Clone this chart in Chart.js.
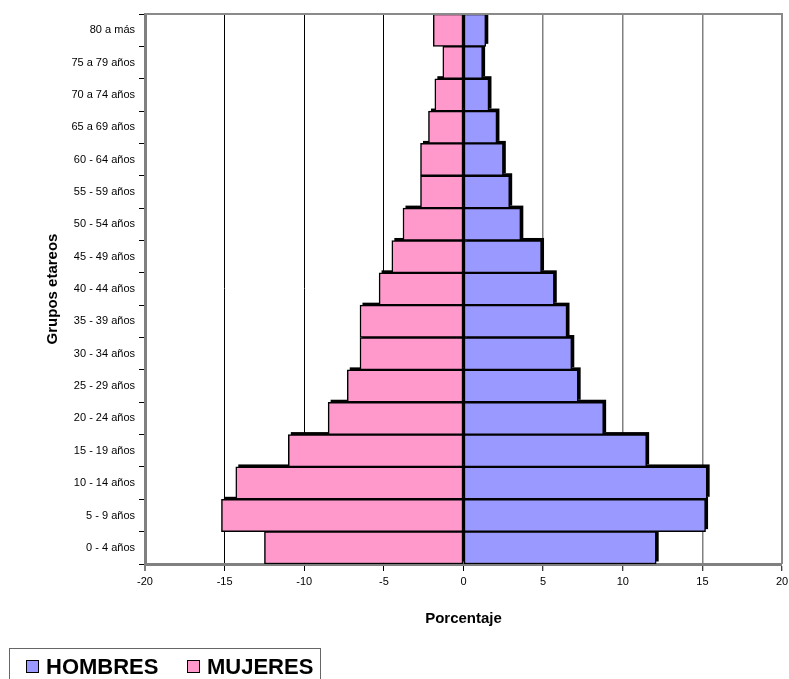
<!DOCTYPE html>
<html>
<head>
<meta charset="utf-8">
<script src="https://cdn.jsdelivr.net/npm/chart.js@4/dist/chart.umd.min.js"></script>
<style>
  html, body { margin: 0; padding: 0; background: #fff; }
  #wrap { position: relative; width: 789px; height: 679px; }
  #legend { position: absolute; left: 9px; top: 648px; width: 312px; height: 40px; border: 1px solid #666; box-sizing: border-box;
            font-family: "Liberation Sans", Arial, sans-serif; font-weight: bold; font-size: 22px; color: #000; }
  .item { position: absolute; top: 5px; line-height: 26px; white-space: nowrap; }
  .sw { display: inline-block; width: 11px; height: 11px; border: 1px solid #000; vertical-align: 1px; margin-right: 7px; }
</style>
</head>
<body>
<div id="wrap">
  <canvas id="c" width="789" height="679"></canvas>
  <div id="legend">
    <span class="item" style="left:16px"><span class="sw" style="background:#9999FF"></span>HOMBRES</span>
    <span class="item" style="left:177px"><span class="sw" style="background:#FF99CC"></span>MUJERES</span>
  </div>
</div>
<script>
// Age groups, bottom (youngest) to top (oldest)
const categories = ['0 - 4 años', '5 - 9 años', '10 - 14 años', '15 - 19 años', '20 - 24 años', '25 - 29 años',
  '30 - 34 años', '35 - 39 años', '40 - 44 años', '45 - 49 años', '50 - 54 años', '55 - 59 años',
  '60 - 64 años', '65 a 69 años', '70 a 74 años', '75 a 79 años', '80 a más'];
const hombres = [12.1, 15.2, 15.3, 11.5, 8.8, 7.2, 6.8, 6.5, 5.7, 4.9, 3.6, 2.9, 2.5, 2.1, 1.6, 1.2, 1.4];
const mujeres = [-12.5, -15.2, -14.3, -11.0, -8.5, -7.3, -6.5, -6.5, -5.3, -4.5, -3.8, -2.7, -2.7, -2.2, -1.8, -1.3, -1.9];
const xTicks = [-20, -15, -10, -5, 0, 5, 10, 15, 20];

const frame = {
  id: 'frame',
  beforeDatasetsDraw(chart) {
    // drop shadows behind bars, using element geometry computed by the library
    const ctx = chart.ctx, a = chart.chartArea;
    ctx.save();
    ctx.beginPath();
    ctx.rect(a.left, a.top, a.right - a.left, a.bottom - a.top);
    ctx.clip();
    ctx.fillStyle = '#000';
    chart.data.datasets.forEach((ds, i) => {
      chart.getDatasetMeta(i).data.forEach(el => {
        const p = el.getProps(['x', 'y', 'base', 'height'], true);
        const l = Math.min(p.x, p.base), r = Math.max(p.x, p.base);
        ctx.fillRect(l + 2.5, p.y - p.height / 2 - 2.5, r - l, p.height);
      });
    });
    ctx.restore();
  },
  afterDraw(chart) {
    const {ctx, chartArea: a} = chart;
    ctx.save();
    ctx.strokeStyle = '#8a8a8a';
    ctx.lineWidth = 2;
    ctx.beginPath();
    ctx.moveTo(a.left, a.top); ctx.lineTo(a.right, a.top); ctx.lineTo(a.right, a.bottom);
    ctx.stroke();
    ctx.restore();
  }
};

new Chart(document.getElementById('c'), {
  type: 'bar',
  data: {
    labels: categories,
    datasets: [
      { label: 'HOMBRES', data: hombres, backgroundColor: '#9999FF', borderColor: '#000', borderWidth: 1.5, borderSkipped: false },
      { label: 'MUJERES', data: mujeres, backgroundColor: '#FF99CC', borderColor: '#000', borderWidth: 1.5, borderSkipped: false }
    ]
  },
  options: {
    indexAxis: 'y',
    responsive: false,
    animation: false,
    categoryPercentage: 1,
    barPercentage: 1,
    layout: { padding: { top: 14, right: 7, bottom: 43, left: 0 } },
    plugins: { legend: { display: false }, tooltip: { enabled: false } },
    scales: {
      x: {
        min: -20, max: 20,
        afterBuildTicks(scale) { scale.ticks = xTicks.map(v => ({ value: v })); },
        afterFit(scale) { scale.height = 72; scale.paddingRight = 0; scale.paddingLeft = 0; },
        border: { color: '#808080', width: 3 },
        grid: {
          color: ctx => (ctx.tick && ctx.tick.value < 0 ? '#000' : '#808080'),
          lineWidth: ctx => (ctx.tick && ctx.tick.value === -20 ? 0 : (ctx.tick && ctx.tick.value > 0 ? 1.5 : 1)),
          tickColor: '#000', tickLength: 7, tickWidth: 1
        },
        ticks: { color: '#000', font: { family: 'Liberation Sans', size: 11 }, padding: 4, maxRotation: 0 },
        title: { display: true, text: 'Porcentaje', color: '#000',
                 font: { family: 'Liberation Sans', size: 15, weight: 'bold' }, padding: { top: 0, bottom: 8 } }
      },
      y: {
        stacked: true,
        reverse: true,
        afterFit(scale) { scale.width = 145; },
        border: { color: '#808080', width: 3 },
        grid: { drawOnChartArea: false, drawTicks: true, tickLength: 6, tickColor: '#000', offset: true },
        ticks: { color: '#000', font: { family: 'Liberation Sans', size: 11 }, padding: 4 },
        title: { display: true, text: 'Grupos etareos', color: '#000',
                 font: { family: 'Liberation Sans', size: 15, weight: 'bold' }, padding: { top: 44, bottom: 0 } }
      }
    }
  },
  plugins: [frame]
});
</script>
</body>
</html>
